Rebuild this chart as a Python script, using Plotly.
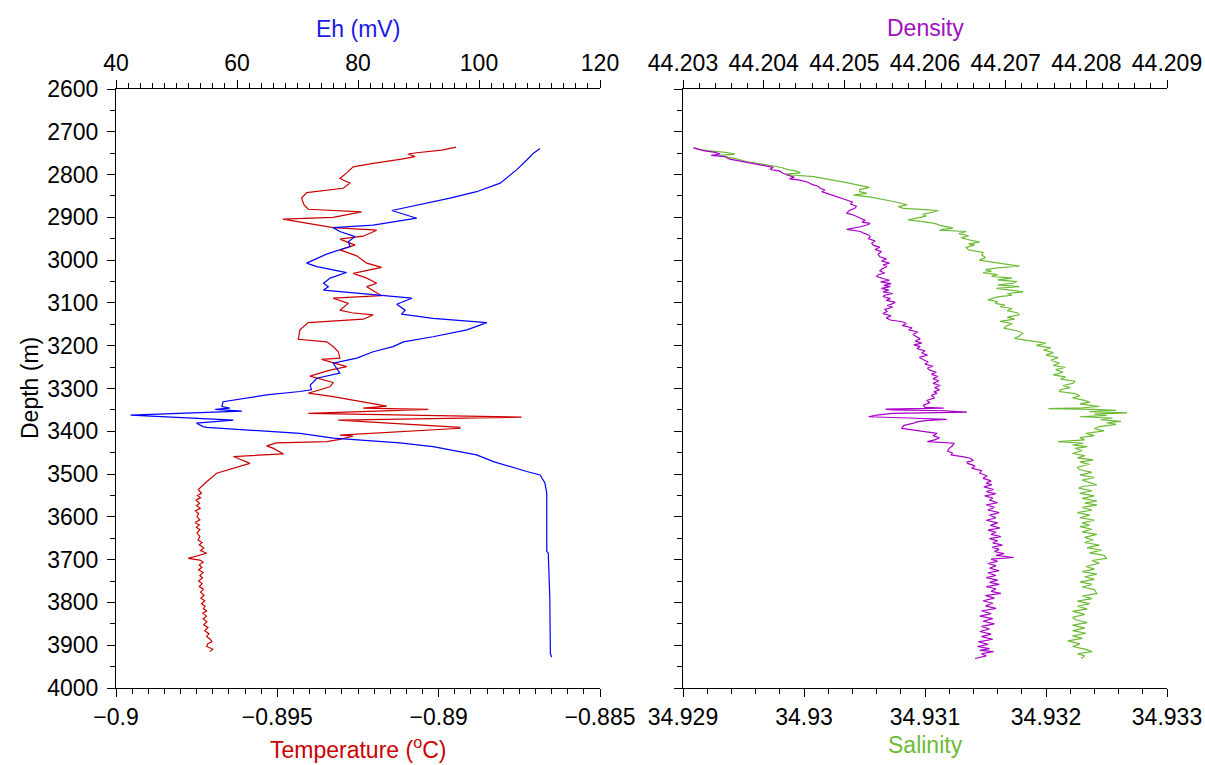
import plotly.graph_objects as go

# ---------------- data ----------------
temp_depth = [2736, 2743, 2749, 2752, 2758, 2764, 2774, 2782, 2796, 2809, 2820, 2832, 2842, 2855, 2871, 2881,
              2887, 2900, 2904, 2914, 2924, 2930, 2944, 2947, 2951, 2965, 2976, 2990, 3007, 3017, 3031, 3042,
              3054, 3062, 3077, 3083, 3089, 3101, 3117, 3123, 3128, 3138, 3146, 3163, 3185, 3191, 3202, 3214,
              3229, 3232, 3249, 3257, 3271, 3286, 3296, 3311, 3319, 3341, 3346, 3349, 3358, 3367, 3374, 3384,
              3391, 3393, 3409, 3411, 3419, 3424, 3427, 3434, 3440, 3453, 3459, 3475, 3486, 3498, 3518, 3536,
              3545, 3550, 3555, 3561, 3568, 3574, 3580, 3586, 3592, 3600, 3607, 3613, 3619, 3624, 3630, 3638,
              3646, 3654, 3660, 3665, 3673, 3679, 3685, 3697, 3701, 3706, 3712, 3718, 3724, 3730, 3737, 3743,
              3750, 3756, 3763, 3769, 3776, 3783, 3790, 3796, 3803, 3809, 3815, 3820, 3825, 3832, 3838, 3845,
              3852, 3859, 3866, 3873, 3880, 3886, 3892, 3897, 3903, 3909, 3915, 3921, 3927]
temperature = [-0.88946, -0.8899, -0.89068, -0.89095, -0.89073, -0.89115, -0.89203, -0.89265, -0.89285,
               -0.89306, -0.89275, -0.89296, -0.89409, -0.89425, -0.89417, -0.89404, -0.89239, -0.89327,
               -0.89483, -0.89409, -0.89327, -0.89192, -0.89234, -0.89265, -0.89306, -0.89259, -0.89306,
               -0.89254, -0.89223, -0.89177, -0.89265, -0.89223, -0.89192, -0.89223, -0.89192, -0.89177,
               -0.89327, -0.8928, -0.89306, -0.8927, -0.89203, -0.89234, -0.89404, -0.8943, -0.89435,
               -0.89347, -0.89327, -0.89311, -0.89306, -0.89363, -0.89285, -0.89337, -0.89399, -0.89327,
               -0.89337, -0.89404, -0.89327, -0.89161, -0.89234, -0.89032, -0.89404, -0.88743, -0.89311,
               -0.89078, -0.88934, -0.88934, -0.89306, -0.89265, -0.89306, -0.89347, -0.89502, -0.89533,
               -0.89512, -0.89481, -0.89636, -0.89585, -0.89636, -0.89688, -0.89719, -0.89745,
               -0.89735, -0.89748, -0.89738, -0.89752, -0.89741, -0.89750, -0.89739, -0.89754, -0.89744,
               -0.89749, -0.89740, -0.89755, -0.89742, -0.89751, -0.89740, -0.89749,
               -0.89740, -0.89746, -0.89733, -0.89742, -0.89728, -0.89738, -0.89719, -0.89776, -0.89740,
               -0.89730, -0.89742, -0.89734, -0.89744, -0.89730, -0.89740, -0.89732, -0.89744, -0.89733,
               -0.89742, -0.89729, -0.89738, -0.89727, -0.89737, -0.89725, -0.89735, -0.89724, -0.89729,
               -0.89718, -0.89731, -0.89720, -0.89730, -0.89718, -0.89728, -0.89715, -0.89725, -0.89712,
               -0.89719, -0.89708, -0.89703, -0.89716, -0.89719, -0.89700, -0.89709]

eh_depth = [2739, 2750, 2766, 2789, 2820, 2840, 2855, 2871, 2884, 2902, 2918, 2924, 2933, 2945, 2957, 2968,
            2986, 3007, 3015, 3029, 3042, 3054, 3062, 3070, 3089, 3103, 3117, 3126, 3136, 3146, 3163, 3179,
            3191, 3202, 3214, 3229, 3241, 3264, 3276, 3292, 3303, 3307, 3315, 3331, 3342, 3346, 3349, 3353,
            3362, 3374, 3381, 3389, 3391, 3405, 3416, 3427, 3436, 3455, 3471, 3494, 3502, 3521, 3545, 3669,
            3681, 3685, 3787, 3919, 3928]
eh = [110.08, 109.0, 107.9, 106.2, 103.5, 99.6, 95.2, 90.2, 85.6, 89.7, 82.5, 75.9, 77.0, 79.5, 78.4, 78.7,
      74.8, 71.5, 73.2, 78.1, 75.4, 74.3, 75.1, 74.3, 88.9, 86.4, 87.8, 87.2, 92.4, 101.3, 98.0, 92.4,
      87.5, 85.8, 82.5, 79.8, 75.9, 77.0, 73.2, 72.1, 72.3, 70.4, 64.9, 57.7, 57.5, 58.8, 56.4, 60.8,
      42.4, 59.4, 53.3, 54.4, 55.0, 70.4, 75.9, 86.9, 92.4, 99.6, 102.4, 107.9, 110.1, 110.9, 111.2, 111.2,
      111.2, 111.45, 111.7, 111.8, 112.0]

den_depth = [2737, 2741, 2744, 2748, 2752, 2755, 2758, 2764, 2769, 2774, 2779, 2783, 2788, 2792, 2797, 2801,
             2806, 2810, 2813, 2818, 2823, 2828, 2832, 2836, 2840, 2844, 2849, 2854, 2859, 2864, 2869, 2874,
             2879, 2884, 2890, 2895, 2902, 2907, 2911, 2914, 2918, 2922, 2928, 2933, 2937, 2941, 2945, 2950,
             2955, 2960, 2965, 2970, 2975, 2980, 2986, 2992, 2997, 3002, 3007, 3011, 3015, 3020, 3025, 3030,
             3034, 3038, 3043, 3047, 3051, 3055, 3059, 3062, 3066, 3070, 3074, 3078, 3082, 3085, 3090, 3094,
             3098, 3101, 3106, 3110, 3115, 3120, 3125, 3130, 3135, 3140, 3144, 3148, 3153, 3158, 3163, 3168,
             3174, 3179, 3184, 3189, 3194, 3198, 3202, 3207, 3212, 3217, 3222, 3227, 3233, 3238, 3243, 3248,
             3252, 3257, 3262, 3267, 3272, 3277, 3282, 3288, 3293, 3298, 3303, 3308, 3311, 3316, 3322, 3328,
             3333, 3339, 3344, 3346, 3348, 3350, 3352, 3355, 3358, 3362, 3366, 3369, 3372, 3375, 3378, 3381,
             3386, 3393, 3397, 3401, 3405, 3410, 3415, 3420, 3424, 3428, 3434, 3440, 3446, 3451, 3455, 3460,
             3463, 3468, 3472, 3475, 3481, 3486, 3492, 3498, 3504, 3510, 3516, 3521, 3525, 3530, 3536, 3541,
             3546, 3551, 3556, 3561, 3567, 3572, 3578, 3584, 3590, 3596, 3602, 3608, 3614, 3620, 3626, 3631,
             3636, 3641, 3646, 3651, 3656, 3661, 3666, 3671, 3676, 3681, 3686, 3690, 3695, 3699, 3704, 3709,
             3714, 3720, 3726, 3731, 3737, 3742, 3748, 3753, 3758, 3763, 3768, 3774, 3779, 3784, 3790, 3796,
             3802, 3808, 3814, 3820, 3826, 3832, 3838, 3844, 3850, 3856, 3862, 3868, 3874, 3880, 3886, 3892,
             3898, 3903, 3908, 3912, 3915, 3920, 3925, 3931]
density = [44.20313, 44.20320, 44.20325, 44.20340, 44.20346, 44.20335, 44.20352, 44.20358, 44.20372, 44.20387,
           44.20400, 44.20412, 44.20408, 44.20420, 44.20424, 44.20429, 44.20438, 44.20432, 44.20445, 44.20455,
           44.20460, 44.20468, 44.20470, 44.20476, 44.20472, 44.20478, 44.20488, 44.20495, 44.20503, 44.20510,
           44.20508, 44.20515, 44.20513, 44.20506, 44.20503, 44.20512, 44.20520, 44.20526, 44.20522, 44.20532,
           44.20528, 44.20520, 44.20503, 44.20520, 44.20524, 44.20530, 44.20532, 44.20530, 44.20538, 44.20534,
           44.20536, 44.20544, 44.20538, 44.20546, 44.20542, 44.20544, 44.20552, 44.20546, 44.20556, 44.20548,
           44.20553, 44.20547, 44.20544, 44.20550, 44.20542, 44.20540, 44.20548, 44.20556, 44.20545, 44.20558,
           44.20549, 44.20557, 44.20546, 44.20555, 44.20548, 44.20560, 44.20550, 44.20548, 44.20557, 44.20552,
           44.20563, 44.20561, 44.20553, 44.20560, 44.20550, 44.20553, 44.20548, 44.20558, 44.20552, 44.20557,
           44.20572, 44.20577, 44.20572, 44.20584, 44.20580, 44.20591, 44.20585, 44.20590, 44.20594, 44.20588,
           44.20596, 44.20586, 44.20594, 44.20590, 44.20600, 44.20596, 44.20603, 44.20593, 44.20598, 44.20604,
           44.20600, 44.20610, 44.20603, 44.20606, 44.20614, 44.20608, 44.20616, 44.20610, 44.20617, 44.20610,
           44.20619, 44.20612, 44.20618, 44.20611, 44.20615, 44.20608, 44.20612, 44.20602, 44.20606, 44.20598,
           44.20600, 44.20623, 44.20551, 44.20560, 44.20625, 44.20652, 44.20560, 44.20540, 44.20530, 44.20580,
           44.20627, 44.20600, 44.20590, 44.20586, 44.20574, 44.20571, 44.20585, 44.20600, 44.20615, 44.20610,
           44.20618, 44.20612, 44.20603, 44.20636, 44.20634, 44.20630, 44.20628, 44.20634, 44.20632, 44.20648,
           44.20656, 44.20660, 44.20652, 44.20653, 44.20662, 44.20658, 44.20670, 44.20668, 44.20677, 44.20672,
           44.20682, 44.20676, 44.20683, 44.20673, 44.20685, 44.20676, 44.20688, 44.20674, 44.20684, 44.20680,
           44.20690, 44.20676, 44.20686, 44.20678, 44.20692, 44.20680, 44.20688, 44.20676, 44.20690, 44.20681,
           44.20693, 44.20678, 44.20688, 44.20682, 44.20694, 44.20680, 44.20690, 44.20684, 44.20696, 44.20683,
           44.20692, 44.20686, 44.20698, 44.20688, 44.20710, 44.20682, 44.20690, 44.20678, 44.20688, 44.20680,
           44.20692, 44.20678, 44.20688, 44.20676, 44.20690, 44.20680, 44.20692, 44.20676, 44.20688, 44.20682,
           44.20694, 44.20675, 44.20686, 44.20672, 44.20684, 44.20675, 44.20688, 44.20670, 44.20682, 44.20668,
           44.20684, 44.20672, 44.20686, 44.20670, 44.20680, 44.20668, 44.20682, 44.20670, 44.20684, 44.20666,
           44.20678, 44.20665, 44.20680, 44.20668, 44.20685, 44.20670, 44.20676, 44.20662]

sal_depth = [2739, 2742, 2744, 2748, 2752, 2755, 2758, 2764, 2770, 2775, 2780, 2784, 2788, 2792, 2796, 2799,
             2801, 2805, 2809, 2814, 2819, 2824, 2830, 2835, 2840, 2844, 2848, 2852, 2858, 2863, 2867, 2871,
             2875, 2879, 2882, 2884, 2888, 2893, 2897, 2902, 2906, 2910, 2914, 2918, 2922, 2925, 2928, 2930,
             2933, 2938, 2943, 2948, 2953, 2958, 2962, 2965, 2970, 2976, 2982, 2988, 2994, 3000, 3006, 3010,
             3014, 3018, 3022, 3026, 3029, 3034, 3038, 3042, 3046, 3050, 3054, 3058, 3062, 3066, 3070, 3074,
             3078, 3082, 3086, 3090, 3093, 3097, 3101, 3105, 3109, 3113, 3118, 3123, 3128, 3133, 3138, 3143,
             3148, 3153, 3159, 3165, 3171, 3177, 3183, 3188, 3194, 3199, 3205, 3210, 3216, 3222, 3228, 3234,
             3241, 3246, 3251, 3256, 3262, 3268, 3273, 3278, 3283, 3288, 3293, 3298, 3303, 3307, 3312, 3317,
             3322, 3327, 3332, 3336, 3339, 3342, 3345, 3347, 3349, 3351, 3354, 3357, 3360, 3363, 3366, 3369,
             3373, 3377, 3380, 3384, 3389, 3394, 3399, 3405, 3410, 3415, 3420, 3424, 3428, 3432, 3436, 3440,
             3445, 3452, 3457, 3462, 3467, 3472, 3477, 3484, 3490, 3496, 3502, 3508, 3514, 3520, 3525, 3529,
             3533, 3539, 3545, 3551, 3557, 3563, 3568, 3572, 3578, 3584, 3590, 3596, 3602, 3608, 3614, 3620,
             3623, 3629, 3635, 3641, 3648, 3654, 3660, 3666, 3672, 3678, 3684, 3690, 3697, 3702, 3708, 3716,
             3722, 3728, 3734, 3740, 3746, 3752, 3758, 3764, 3770, 3779, 3785, 3791, 3797, 3803, 3809, 3815,
             3821, 3828, 3835, 3841, 3847, 3853, 3860, 3866, 3872, 3878, 3884, 3890, 3897, 3903, 3909, 3915,
             3920, 3925, 3931]
salinity = [34.92909, 34.92915, 34.92920, 34.92935, 34.92943, 34.92930, 34.92936, 34.92945, 34.92953, 34.92966,
            34.92975, 34.92982, 34.92986, 34.92994, 34.92997, 34.92985, 34.92990, 34.93008, 34.93016, 34.93028,
            34.93035, 34.93044, 34.93054, 34.93046, 34.93046, 34.93052, 34.93041, 34.93054, 34.93066, 34.93074,
            34.93080, 34.93085, 34.93078, 34.93082, 34.93100, 34.93111, 34.93106, 34.93098, 34.93101, 34.93092,
            34.93086, 34.93098, 34.93108, 34.93112, 34.93118, 34.93123, 34.93115, 34.93112, 34.93134, 34.93128,
            34.93136, 34.93130, 34.93137, 34.93145, 34.93136, 34.93141, 34.93134, 34.93136, 34.93148, 34.93147,
            34.93150, 34.93145, 34.93158, 34.93170, 34.93178, 34.93160, 34.93150, 34.93155, 34.93148, 34.93160,
            34.93155, 34.93172, 34.93160, 34.93176, 34.93173, 34.93160, 34.93178, 34.93159, 34.93170, 34.93181,
            34.93168, 34.93172, 34.93160, 34.93156, 34.93152, 34.93160, 34.93158, 34.93166, 34.93162, 34.93172,
            34.93168, 34.93176, 34.93178, 34.93168, 34.93174, 34.93162, 34.93172, 34.93168, 34.93165, 34.93176,
            34.93181, 34.93178, 34.93174, 34.93186, 34.93200, 34.93192, 34.93204, 34.93198, 34.93206, 34.93200,
            34.93210, 34.93204, 34.93211, 34.93206, 34.93216, 34.93208, 34.93214, 34.93206, 34.93216, 34.93212,
            34.93224, 34.93222, 34.93214, 34.93220, 34.93212, 34.93211, 34.93224, 34.93228, 34.93222, 34.93231,
            34.93236, 34.93228, 34.93239, 34.93244, 34.93230, 34.93202, 34.93240, 34.93258, 34.93236, 34.93267,
            34.93240, 34.93250, 34.93228, 34.93255, 34.93245, 34.93262, 34.93250, 34.93258, 34.93244, 34.93240,
            34.93248, 34.93233, 34.93240, 34.93228, 34.93232, 34.93210, 34.93231, 34.93222, 34.93234, 34.93224,
            34.93230, 34.93222, 34.93232, 34.93226, 34.93239, 34.93228, 34.93236, 34.93226, 34.93228, 34.93238,
            34.93228, 34.93240, 34.93230, 34.93236, 34.93242, 34.93230, 34.93227, 34.93238, 34.93228, 34.93240,
            34.93230, 34.93242, 34.93232, 34.93242, 34.93230, 34.93238, 34.93226, 34.93236, 34.93228, 34.93240,
            34.93230, 34.93236, 34.93228, 34.93238, 34.93230, 34.93242, 34.93232, 34.93239, 34.93232, 34.93244,
            34.93234, 34.93246, 34.93236, 34.93248, 34.93250, 34.93238, 34.93244, 34.93233, 34.93240, 34.93230,
            34.93242, 34.93232, 34.93240, 34.93228, 34.93238, 34.93230, 34.93240, 34.93242, 34.93230, 34.93238,
            34.93226, 34.93236, 34.93226, 34.93234, 34.93222, 34.93232, 34.93222, 34.93225, 34.93234, 34.93222,
            34.93232, 34.93222, 34.93233, 34.93222, 34.93230, 34.93218, 34.93228, 34.93222, 34.93232, 34.93238,
            34.93226, 34.93232, 34.93229]

eh_ticks = [40, 60, 80, 100, 120]
temp_ticks = [-0.9, -0.895, -0.89, -0.885]
temp_labels = ["\u22120.9", "\u22120.895", "\u22120.89", "\u22120.885"]
den_ticks = [44.203, 44.204, 44.205, 44.206, 44.207, 44.208, 44.209]
den_labels = ["44.203", "44.204", "44.205", "44.206", "44.207", "44.208", "44.209"]
sal_ticks = [34.929, 34.930, 34.931, 34.932, 34.933]
sal_labels = ["34.929", "34.93", "34.931", "34.932", "34.933"]
depth_ticks = list(range(2600, 4001, 100))

# ---------------- styling ----------------
RED = "#cc0000"
BLUE = "#0000ff"
PURPLE = "#a800c8"
GREEN = "#6cbb34"
FONT = "Liberation Sans, Arial, Helvetica, sans-serif"
TICKFS = 23
TITLEFS = 23

L_DOM = [116 / 1205, 600 / 1205]
R_DOM = [683 / 1205, 1167 / 1205]
Y_DOM = [1 - 688 / 765, 1 - 89 / 765]

fig = go.Figure()
fig.add_trace(go.Scatter(x=temperature, y=temp_depth, mode="lines", line=dict(color=RED, width=1.2),
                         xaxis="x", yaxis="y", showlegend=False))
fig.add_trace(go.Scatter(x=eh, y=eh_depth, mode="lines", line=dict(color=BLUE, width=1.2),
                         xaxis="x2", yaxis="y", showlegend=False))
fig.add_trace(go.Scatter(x=salinity, y=sal_depth, mode="lines", line=dict(color=GREEN, width=1.2),
                         xaxis="x3", yaxis="y2", showlegend=False))
fig.add_trace(go.Scatter(x=density, y=den_depth, mode="lines", line=dict(color=PURPLE, width=1.2),
                         xaxis="x4", yaxis="y2", showlegend=False))

def axis_common():
    return dict(showline=True, linecolor="black", linewidth=1.2, ticks="outside", ticklen=8,
                tickwidth=1.2, tickcolor="black", showgrid=False, zeroline=False, automargin=False,
                tickfont=dict(family=FONT, size=TICKFS, color="black"), fixedrange=True)

def minor(t0, dt):
    return dict(ticks="outside", ticklen=5, tickwidth=1, tickcolor="black",
                tickmode="linear", tick0=t0, dtick=dt)

eps = 1e-9
fig.update_layout(
    width=1205, height=765, margin=dict(l=0, r=0, t=0, b=0, autoexpand=False),
    paper_bgcolor="white", plot_bgcolor="white",
    xaxis=dict(**axis_common(), domain=L_DOM, anchor="y", side="bottom",
               range=[-0.9 - eps, -0.885 + eps], tickmode="array", tickvals=temp_ticks, ticktext=temp_labels,
               minor=minor(-0.9, 0.0005)),
    xaxis2=dict(**axis_common(), overlaying="x", anchor="y", side="top",
                range=[40, 120], tickmode="array", tickvals=eh_ticks, minor=minor(40, 2)),
    xaxis3=dict(**axis_common(), domain=R_DOM, anchor="y2", side="bottom",
                range=[34.929 - eps, 34.933 + eps], tickmode="array", tickvals=sal_ticks, ticktext=sal_labels,
                minor=minor(34.929, 0.0002)),
    xaxis4=dict(**axis_common(), overlaying="x3", anchor="y2", side="top",
                range=[44.203 - eps, 44.209 + eps], tickmode="array", tickvals=den_ticks, ticktext=den_labels,
                minor=minor(44.203, 0.0002)),
    yaxis=dict(**axis_common(), domain=Y_DOM, anchor="x", range=[4000, 2600], ticklabelstandoff=4,
               tickmode="array", tickvals=depth_ticks, minor=minor(2600, 50)),
    yaxis2=dict(**axis_common(), domain=Y_DOM, anchor="x3", range=[4000, 2600],
                tickmode="array", tickvals=depth_ticks, showticklabels=False, minor=minor(2600, 50)),
)

def title(text, x, y, color, angle=0):
    fig.add_annotation(text=text, x=x / 1205, y=1 - y / 765, xref="paper", yref="paper",
                       showarrow=False, textangle=angle,
                       font=dict(family=FONT, size=TITLEFS, color=color), xanchor="center", yanchor="middle")

title("Eh (mV)", 358, 29, "#1a1ae6")
title("Density", 925, 28, "#a010c0")
title("Temperature (<sup>o</sup>C)", 358, 748, RED)
title("Salinity", 925, 745, GREEN)
title("Depth (m)", 30, 388, "black", angle=-90)

fig.write_html("out.html", config={"displayModeBar": False},
               post_script="document.body.style.margin='0px';document.body.style.padding='0px';")
